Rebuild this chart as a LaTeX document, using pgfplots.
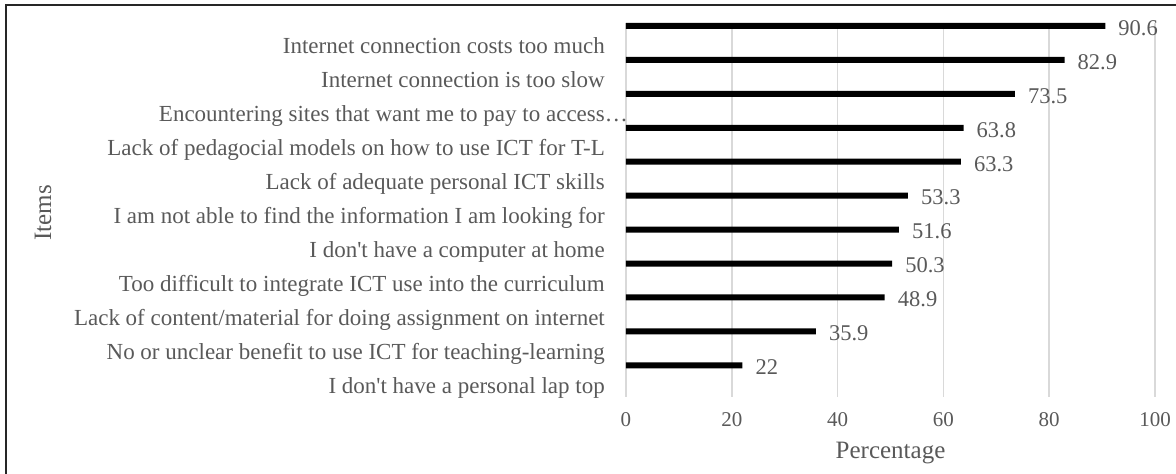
\documentclass[border=0pt]{standalone}
\usepackage{fontspec}
\setmainfont{Liberation Serif}
\usepackage{pgfplots}
\pgfplotsset{compat=1.18}
\definecolor{txt}{HTML}{595959}
\definecolor{grd}{HTML}{D9D9D9}
\definecolor{frm}{HTML}{262626}
\begin{document}
\begin{tikzpicture}
\useasboundingbox (0pt,0pt) rectangle (1176pt,474pt);
\draw[frm, line width=2pt] (6pt,0pt) -- (6pt,469pt) -- (1176pt,469pt);
\begin{axis}[
 at={(626pt,77pt)}, anchor=south west,
 scale only axis, width=529pt, height=374pt,
 xmin=0, xmax=100, ymin=0.9116, ymax=11.934, y dir=reverse,
 xtick={0,20,40,60,80,100},
 ytick={1.61,2.61,3.61,4.61,5.61,6.61,7.61,8.61,9.61,10.61,11.61},
 yticklabels={
  Internet connection costs too much,
  Internet connection is too slow,
  Encountering sites that want me to pay to access\rlap{…},
  Lack of pedagocial models on how to use ICT for T-L,
  Lack of adequate personal ICT skills,
  I am not able to find the information I am looking for,
  I don\textquotesingle t have a computer at home,
  Too difficult to integrate ICT use into the curriculum,
  Lack of content/material for doing assignment on internet,
  No or unclear benefit to use ICT for teaching-learning,
  I don\textquotesingle t have a personal lap top},
 xmajorgrids, ymajorgrids=false,
 major grid style={grd, line width=1.5pt},
 axis line style={draw=none},
 major tick length=0pt,
 tick label style={txt},
 xticklabel style={font=\fontsize{21}{21}\selectfont, anchor=center, yshift=-23pt},
 yticklabel style={font=\fontsize{23}{24}\selectfont, anchor=base east, xshift=-21pt, yshift=-7pt, inner sep=0pt},
 /pgf/number format/assume math mode=true,
 xbar, bar width=6pt,
 nodes near coords,
 nodes near coords style={txt, font=\fontsize{22.5}{23}\selectfont, anchor=west, inner sep=0pt, xshift=13pt, yshift=-2pt},
 clip=false,
]
\addplot[fill=black, draw=none] coordinates {
 (90.6,1) (82.9,2) (73.5,3) (63.8,4) (63.3,5) (53.3,6)
 (51.6,7) (50.3,8) (48.9,9) (35.9,10) (22,11)};
\end{axis}
\node[txt, rotate=90, font=\fontsize{25}{25}\selectfont] at (43pt,261pt) {Items};
\node[txt, anchor=base, font=\fontsize{25}{25}\selectfont] at (890.5pt,15pt) {Percentage};
\end{tikzpicture}
\end{document}
